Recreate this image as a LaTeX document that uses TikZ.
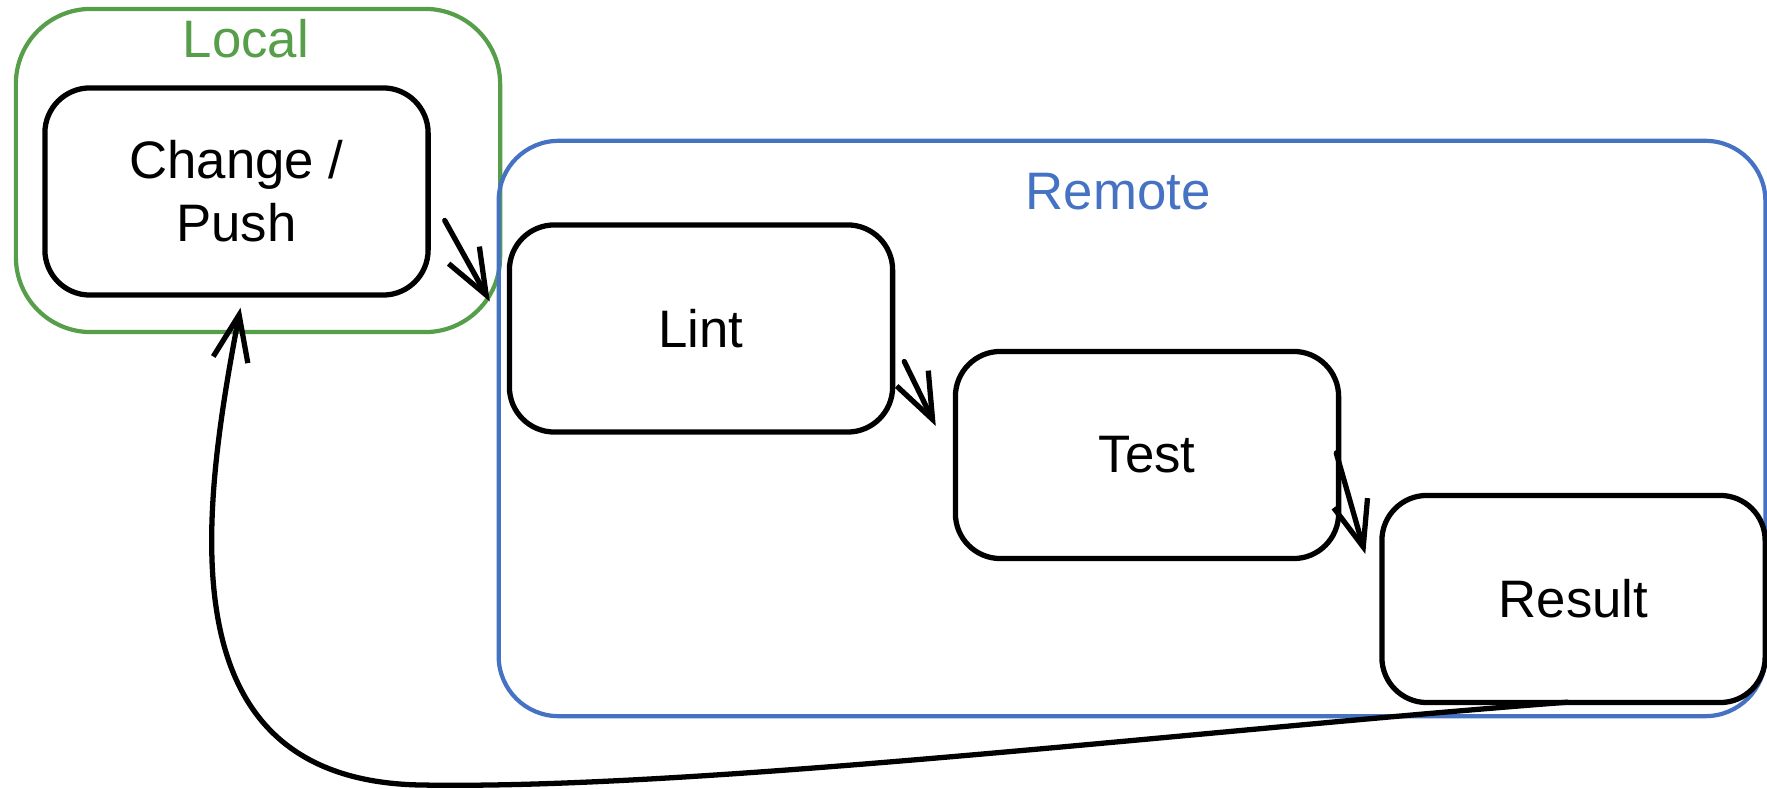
\documentclass[tikz,border=0pt]{standalone}
\usepackage{fontspec}
\setmainfont{Liberation Sans}
\usetikzlibrary{arrows.meta}

\definecolor{localgreen}{RGB}{86,158,74}
\definecolor{remoteblue}{RGB}{70,114,196}

\tikzstyle{flowbox}=[
    draw,
    line width=1.5pt,
    rounded corners=0.45cm,
    minimum width=3.83cm,
    minimum height=2.07cm,
    align=center,
    font=\fontsize{15}{18}\selectfont,
  ]
\tikzstyle{groupbox}=[
    draw,
    line width=1.2pt,
  ]
\tikzstyle{grouplabel}=[
    anchor=base,
    font=\fontsize{15}{18}\selectfont,
  ]
\tikzstyle{flow}=[
    -{Straight Barb[length=13pt,width=10pt]},
    line width=1.5pt,
    line cap=round,
  ]

\begin{document}
\begin{tikzpicture}[x=0.01cm, y=-0.01cm]
      \useasboundingbox (0,0) rectangle (1767,789);
      \node[groupbox, draw=localgreen, rounded corners=0.75cm,
        minimum width=4.84cm, minimum height=3.23cm] (local) at (258,170.5) {};
      \node[groupbox, draw=remoteblue, rounded corners=0.6cm,
        minimum width=12.66cm, minimum height=5.75cm] (remote) at (1132,428.5) {};
      \node[grouplabel, text=localgreen] (locallabel) at (246,58) {Local};
      \node[grouplabel, text=remoteblue] (remotelabel) at (1118,210) {Remote};
      \node[flowbox] (change) at (236.5,191.5) {Change /\\Push};
      \node[flowbox] (lint) at (701,328.5) {Lint};
      \node[flowbox] (test) at (1147,455) {Test};
      \node[flowbox] (result) at (1573.5,599) {Result};
      \draw[flow] ([shift={(14,29)}]change.east) -- ([shift={(-17,-27)}]lint.west);
      \draw[flow] ([shift={(9,33)}]lint.east) -- ([shift={(-17,-29)}]test.west);
      \draw[flow] ([shift={(-5,-2)}]test.east) -- ([shift={(-14,-45)}]result.west);
      \draw[flow] ([shift={(-6,-3)}]result.south)
        .. controls (1200,730) and (700,790) .. (420,785)
        .. controls (165,780) and (200,520) .. ([shift={(4,10)}]change.south);
    \end{tikzpicture}
\end{document}
